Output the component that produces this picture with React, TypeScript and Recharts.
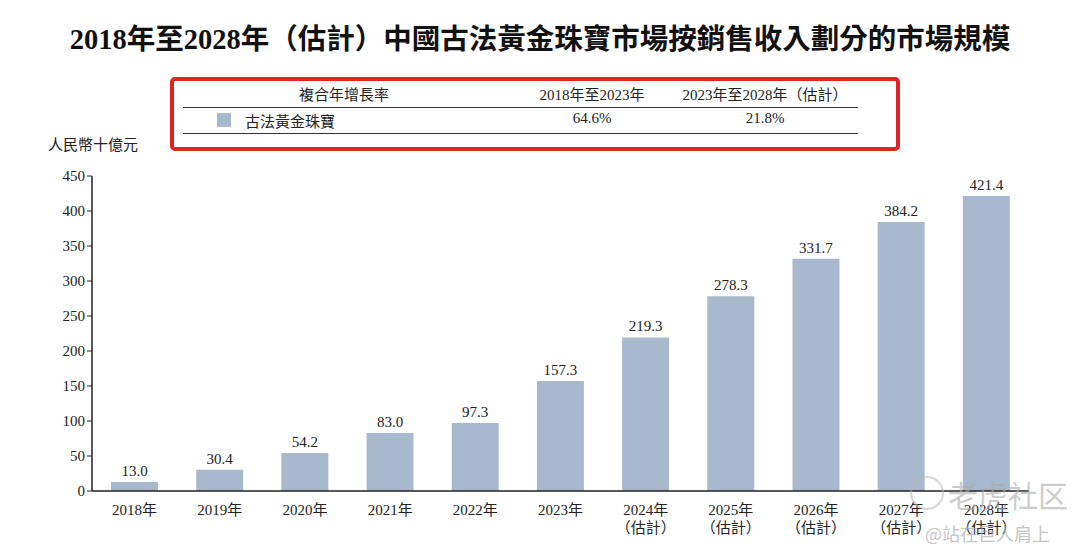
import React from "react";
import { BarChart, Bar, XAxis, YAxis, LabelList } from "recharts";

const years = ["2018年", "2019年", "2020年", "2021年", "2022年", "2023年", "2024年", "2025年", "2026年", "2027年", "2028年"];
const estimated = [false, false, false, false, false, false, true, true, true, true, true];
const marketSize = [13.0, 30.4, 54.2, 83.0, 97.3, 157.3, 219.3, 278.3, 331.7, 384.2, 421.4];
const yTicks = [0, 50, 100, 150, 200, 250, 300, 350, 400, 450];

const cagrHeaders = ["複合年增長率", "2018年至2023年", "2023年至2028年（估計）"];
const seriesName = "古法黃金珠寶";
const cagrValues = ["64.6%", "21.8%"];

const BAR = "#a9b9cd";
const INK = "#222";
const FONT = '"Liberation Serif", "Noto Sans CJK TC", serif';

const data = years.map((y, i) => ({ year: y, est: estimated[i], value: marketSize[i] }));

function YearTick(props: any) {
  const { x, y, payload, index } = props;
  return (
    <g transform={`translate(${x},${y})`}>
      <text textAnchor="middle" y={16} fontSize={15} fill={INK} fontFamily={FONT}>
        {payload.value}
      </text>
      {estimated[index] && (
        <text textAnchor="middle" y={34} fontSize={15} fill={INK} fontFamily={FONT}>
          （估計）
        </text>
      )}
    </g>
  );
}

export default function App() {
  return (
    <div style={{ position: "absolute", left: 0, top: 0, width: 1080, height: 558, background: "#fff", fontFamily: FONT, color: INK }}>
      <div style={{ position: "absolute", left: 0, top: 16, width: 1080, textAlign: "center", fontSize: 28.5, fontWeight: 700, color: "#111" }}>
        2018年至2028年（估計）中國古法黃金珠寶市場按銷售收入劃分的市場規模
      </div>

      {/* CAGR table */}
      <div style={{ position: "absolute", left: 170, top: 77, width: 722, height: 66, border: "4px solid #e02424", borderRadius: 5 }} />
      <div style={{ position: "absolute", left: 183, top: 107, width: 675, borderTop: "1.5px solid #333" }} />
      <div style={{ position: "absolute", left: 183, top: 133, width: 675, borderTop: "1.5px solid #333" }} />
      <div style={{ position: "absolute", top: 83, left: 0, width: 1080, fontSize: 15 }}>
        <span style={{ position: "absolute", left: 244, width: 200, textAlign: "center" }}>{cagrHeaders[0]}</span>
        <span style={{ position: "absolute", left: 492, width: 200, textAlign: "center" }}>{cagrHeaders[1]}</span>
        <span style={{ position: "absolute", left: 650, width: 230, textAlign: "center" }}>{cagrHeaders[2]}</span>
      </div>
      <div style={{ position: "absolute", top: 110, left: 0, width: 1080, fontSize: 15 }}>
        <span style={{ position: "absolute", left: 217, top: 3, width: 14, height: 14, background: BAR }} />
        <span style={{ position: "absolute", left: 245 }}>{seriesName}</span>
        <span style={{ position: "absolute", left: 492, width: 200, textAlign: "center" }}>{cagrValues[0]}</span>
        <span style={{ position: "absolute", left: 665, width: 200, textAlign: "center" }}>{cagrValues[1]}</span>
      </div>

      <div style={{ position: "absolute", left: 48, top: 133, fontSize: 15 }}>人民幣十億元</div>

      <div style={{ position: "absolute", left: 0, top: 0 }}>
        <BarChart width={1080} height={558} data={data} margin={{ top: 176, right: 51, bottom: 27, left: 0 }} barSize={47}>
          <XAxis
            dataKey="year"
            tickLine={false}
            axisLine={{ stroke: "#222", strokeWidth: 1.5 }}
            tick={<YearTick />}
            interval={0}
            height={40}
          />
          <YAxis
            domain={[0, 450]}
            ticks={yTicks}
            width={92}
            tickSize={5}
            tickLine={{ stroke: "#222" }}
            axisLine={{ stroke: "#222", strokeWidth: 1.5 }}
            tick={{ fontSize: 15, fill: INK, fontFamily: FONT }}
            interval={0}
          />
          <Bar dataKey="value" fill={BAR} isAnimationActive={false}>
            <LabelList
              dataKey="value"
              position="top"
              offset={6}
              formatter={(v: number) => v.toFixed(1)}
              style={{ fontSize: 15, fill: INK, fontFamily: FONT }}
            />
          </Bar>
        </BarChart>
      </div>

      {/* watermark */}
      <div style={{ position: "absolute", left: 910, top: 476, width: 30, height: 30, borderRadius: "50%", border: "2px solid rgba(180,180,180,0.55)" }} />
      <div style={{ position: "absolute", left: 948, top: 472, fontSize: 30, color: "rgba(170,170,170,0.6)", fontFamily: '"Noto Sans CJK SC", sans-serif' }}>老虎社区</div>
      <div style={{ position: "absolute", left: 925, top: 520, fontSize: 18, color: "rgba(170,170,170,0.7)", fontFamily: '"Noto Sans CJK SC", sans-serif' }}>@站在巨人肩上</div>
    </div>
  );
}
